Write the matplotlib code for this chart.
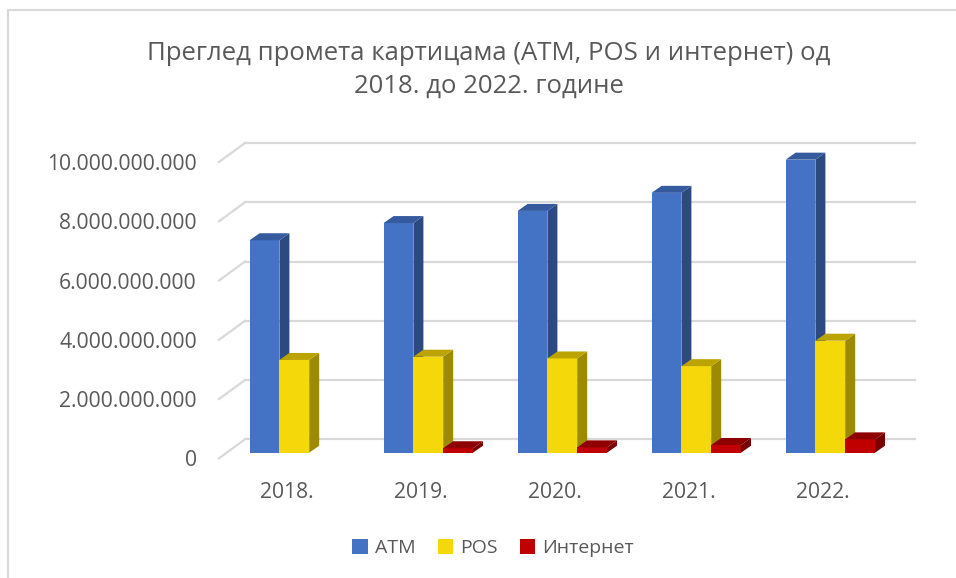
import matplotlib.pyplot as plt
from matplotlib.patches import Patch, Polygon, Rectangle
from matplotlib.transforms import ScaledTranslation

plt.rcParams["font.family"] = ["Open Sans", "DejaVu Sans"]

TEXT = "#595959"
GRID = "#D9D9D9"

years = ["2018.", "2019.", "2020.", "2021.", "2022."]
series_names = ["ATM", "POS", "Интернет"]
atm = [7.17e9, 7.75e9, 8.16e9, 8.77e9, 9.89e9]
pos = [3.13e9, 3.24e9, 3.18e9, 2.92e9, 3.78e9]
internet = [0.0, 0.15e9, 0.18e9, 0.26e9, 0.45e9]
y_ticks = [0, 2e9, 4e9, 6e9, 8e9, 10e9]
title = "Преглед промета картицама (АТМ, POS и интернет) од\n2018. до 2022. године"

# front, side, top colours per series
colors = [
    ("#4472C4", "#2C4A80", "#355A9E"),
    ("#F5D80A", "#9E8A00", "#BCA400"),
    ("#C00000", "#780000", "#8E0000"),
]

W, H, DPI = 956, 578, 100
fig = plt.figure(figsize=(W / DPI, H / DPI), dpi=DPI)

# chart area frame (left/top edges visible)
fig.patches.append(Rectangle((7.5 / W, -0.1), 1.2, (H - 10.5) / H + 0.1,
                             transform=fig.transFigure, fill=False,
                             edgecolor=GRID, linewidth=1.5))

# axes = front edge of the floor
left, right, y0, y10 = 219, 889, 458.3, 162
ax = fig.add_axes([left / W, (H - y0) / H, (right - left) / W, (y0 - y10) / H])
xmin, xmax = -0.5045, 4.4955
ax.set_xlim(xmin, xmax)
ax.set_ylim(0, 10e9)
for s in ax.spines.values():
    s.set_visible(False)

px_x = (xmax - xmin) / (right - left)   # data per pixel
px_y = 10e9 / (y0 - y10)

# back wall and slanted side gridlines
wall_dx, wall_dy = 26 * px_x, 19 * px_y
for v in y_ticks:
    ax.plot([xmin + wall_dx, xmax + wall_dx], [v + wall_dy, v + wall_dy],
            color=GRID, linewidth=1.6, zorder=1, clip_on=False)
    ax.plot([xmin, xmin + wall_dx], [v, v + wall_dy],
            color=GRID, linewidth=1.6, zorder=1, clip_on=False)

# bar plane sits a bit behind the floor front
plane = ax.transData + ScaledTranslation(7.7 / DPI, 5.6 / DPI, fig.dpi_scale_trans)
bar_w = 29.8 * px_x
dx, dy = 10 * px_x, 7 * px_y

z = 3
for i in range(len(years)):
    for j, vals in enumerate([atm, pos, internet]):
        h = vals[i]
        if h <= 0:
            continue
        front, side, top = colors[j]
        x0 = i + (j - 1.5) * bar_w
        x1 = x0 + bar_w
        ax.bar(x0, h, width=bar_w, align="edge", color=front, transform=plane,
               zorder=z, clip_on=False, linewidth=0)
        ax.add_patch(Polygon([(x1, 0), (x1 + dx, dy), (x1 + dx, h + dy), (x1, h)],
                             closed=True, facecolor=side, edgecolor="none",
                             transform=plane, zorder=z, clip_on=False))
        ax.add_patch(Polygon([(x0, h), (x0 + dx, h + dy), (x1 + dx, h + dy), (x1, h)],
                             closed=True, facecolor=top, edgecolor="none",
                             transform=plane, zorder=z, clip_on=False))
        z += 1

ax.set_xticks(range(len(years)))
ax.set_xticklabels(years)
ax.set_yticks(y_ticks)
ax.set_yticklabels([f"{int(v):,}".replace(",", ".") for v in y_ticks])
ax.tick_params(axis="both", length=0, colors=TEXT, labelsize=15.2)
ax.tick_params(axis="y", pad=16)
ax.tick_params(axis="x", pad=17)

fig.text(489 / W, 1 - 69.5 / H, title, ha="center", va="center",
         fontsize=18.5, color=TEXT, linespacing=1.4)

handles = [Patch(facecolor=c[0], edgecolor="none") for c in colors]
leg = fig.legend(handles, series_names, loc="center", ncol=3, frameon=False,
                 bbox_to_anchor=(493 / W, 1 - 548 / H), fontsize=14,
                 handlelength=0.8, handleheight=0.8, handletextpad=0.35,
                 columnspacing=1.15)
for t in leg.get_texts():
    t.set_color(TEXT)

fig.savefig("out.png", dpi=DPI)
